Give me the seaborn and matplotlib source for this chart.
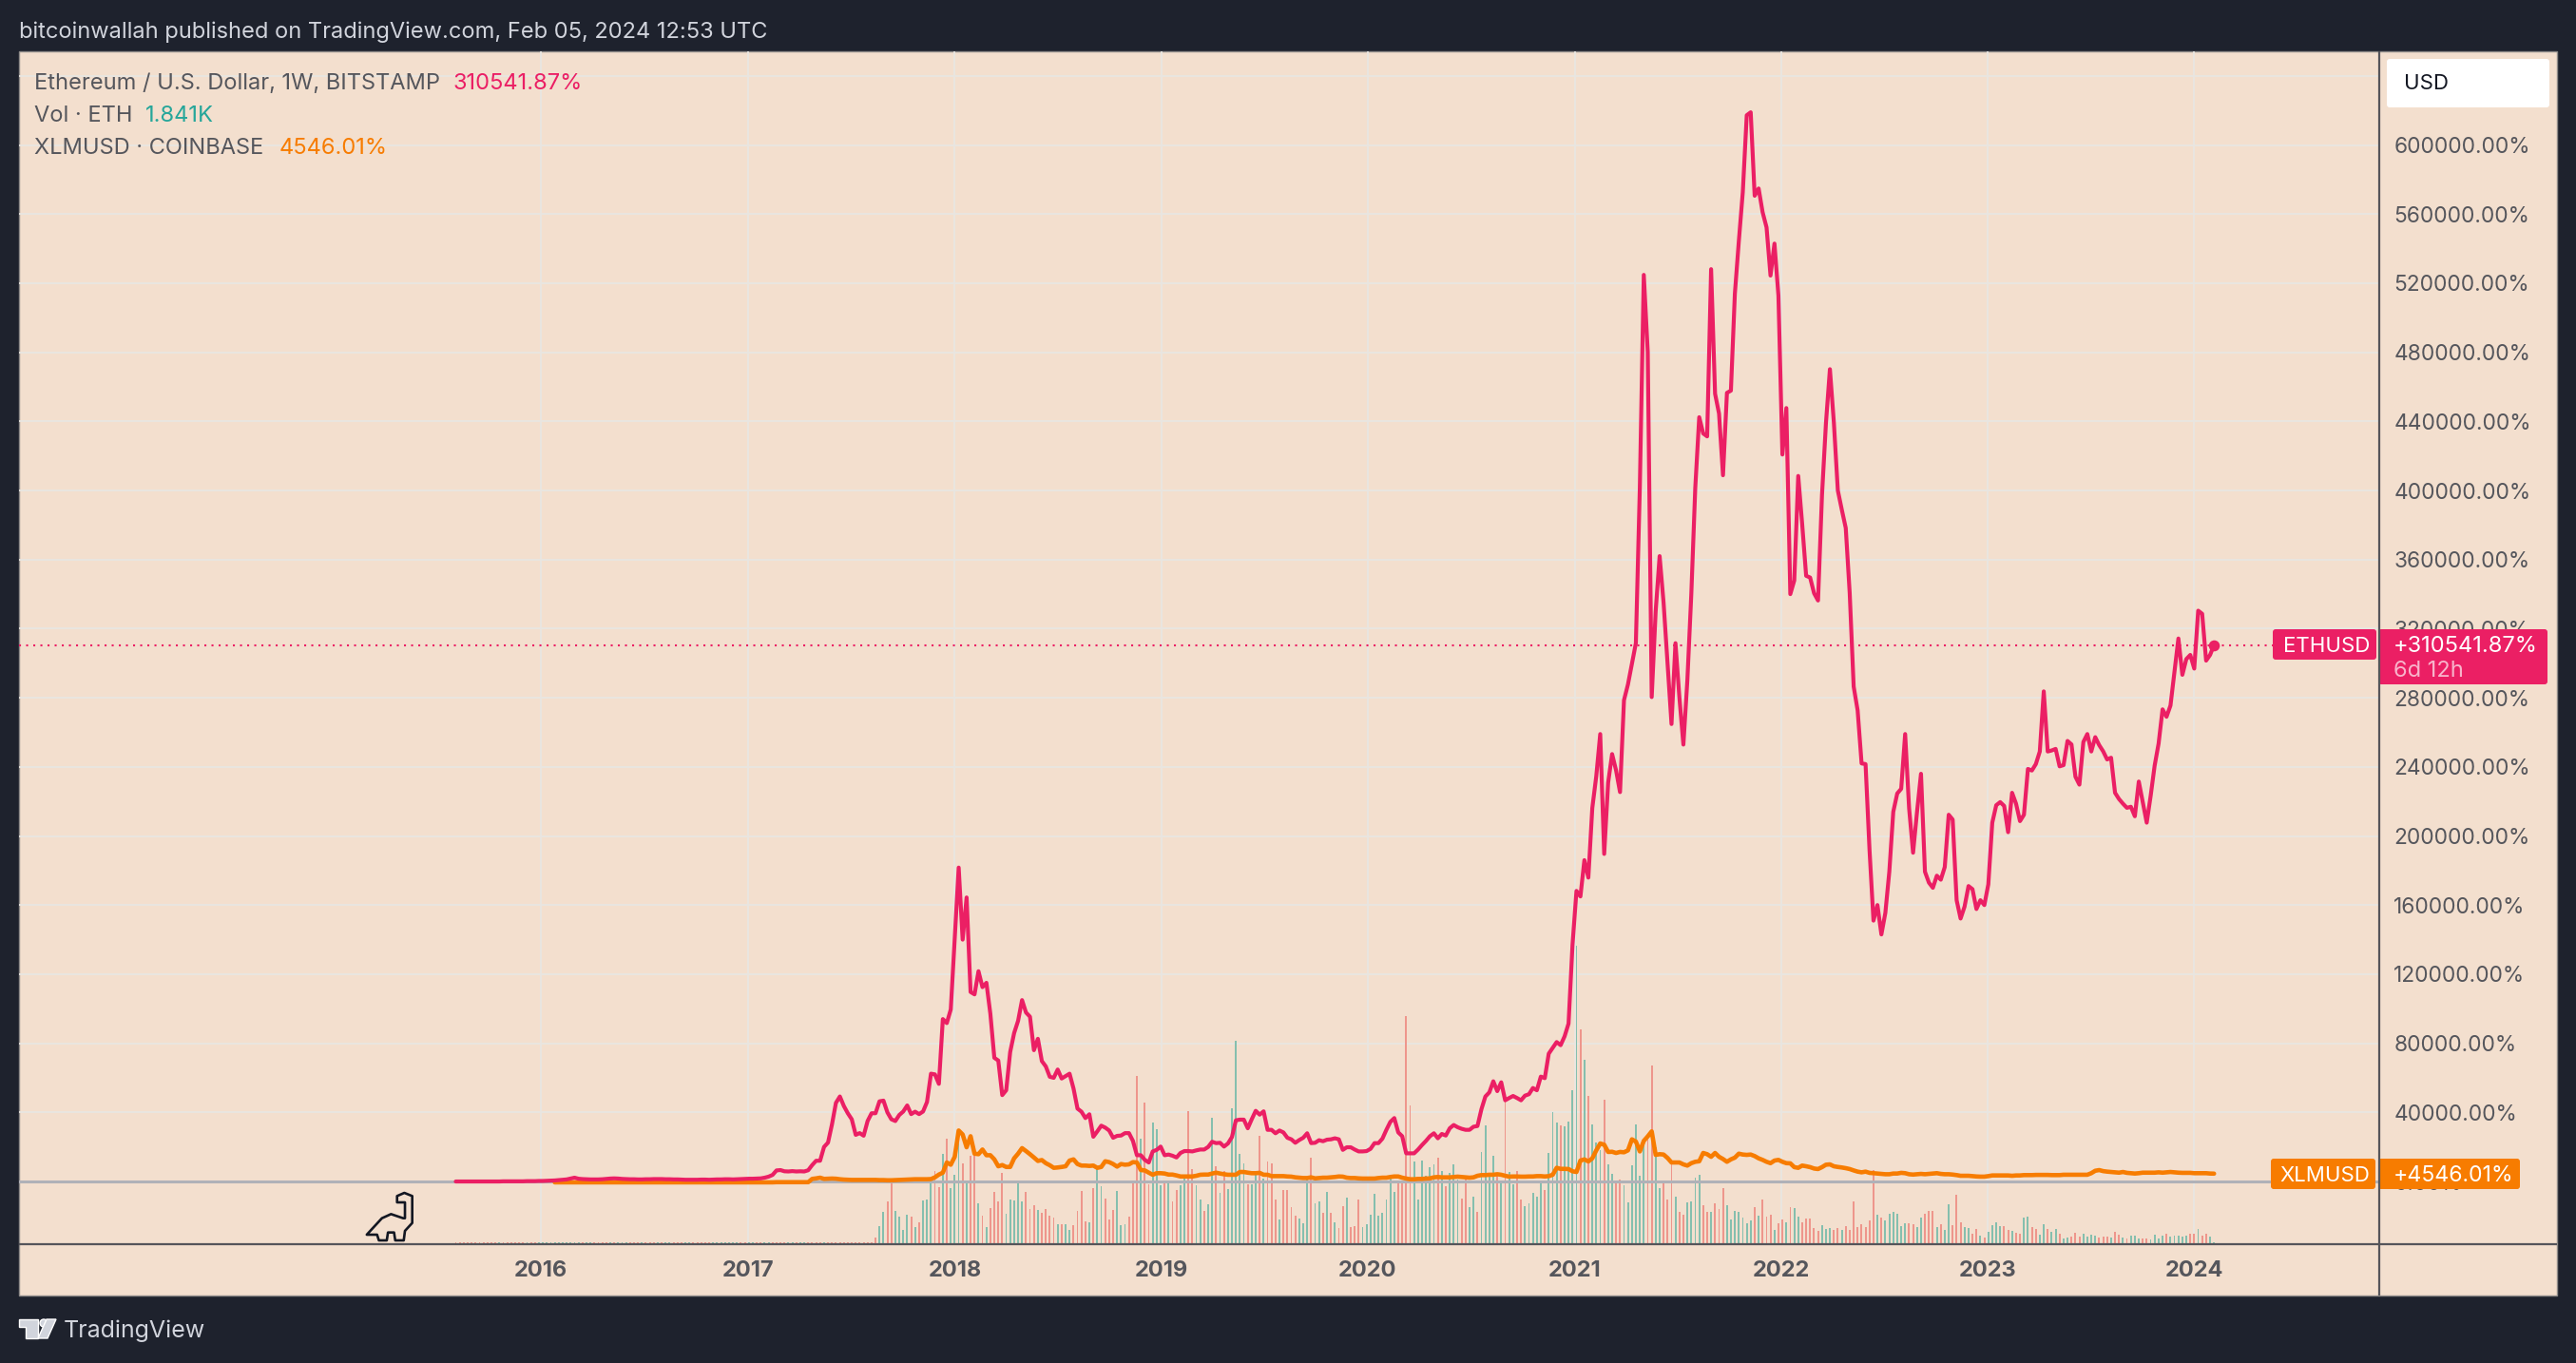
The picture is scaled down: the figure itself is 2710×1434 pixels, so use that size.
import numpy as np
import pandas as pd
import matplotlib
matplotlib.use("Agg")
import matplotlib.pyplot as plt
import matplotlib.dates as mdates
from matplotlib.patches import FancyBboxPatch, Polygon, Rectangle, Circle
import seaborn as sns

W, H = 2710, 1434

# ETH weekly change, in thousands of percent, oldest first
eth_kpct = [
    # 2015 - early 2017, nearly flat
    0.0, 0.0, 0.0, 0.0, 0.0, 0.0, 0.0, 0.0, 0.0, 0.0, 0.0, 0.0, 0.1, 0.1, 0.1, 0.1, 0.1, 0.1, 0.2, 0.2,
    0.2, 0.3, 0.3, 0.4, 0.5, 0.6, 0.8, 1.0, 1.2, 1.7, 2.2, 1.6, 1.4, 1.3, 1.2, 1.2, 1.2, 1.3, 1.5, 1.7,
    1.8, 1.7, 1.5, 1.4, 1.3, 1.3, 1.2, 1.2, 1.3, 1.3, 1.4, 1.4, 1.4, 1.3, 1.3, 1.2, 1.2, 1.1, 1.0, 1.0,
    1.0, 1.0, 1.1, 1.1, 1.0, 1.1, 1.2, 1.2, 1.3, 1.3, 1.2, 1.3, 1.4, 1.5, 1.6, 1.6, 1.7, 1.8, 2.2, 2.8,
    3.8, 6.4, 6.6, 5.9, 5.8, 6.0, 5.8,
    # 2017 - 2019
    5.9, 5.8, 6.5, 9.5, 12, 12, 20, 22.5, 33, 45.5, 49.2, 43.7, 39.5, 36, 27, 28, 26.5, 35, 39.5, 39.5,
    46.4, 46.8, 40, 36, 35, 38.5, 40.5, 44, 39, 40.4, 39, 40.5, 46, 62.4, 62, 56.5, 94, 91.7, 99.6, 141,
    181.7, 140, 164.4, 109.7, 108.3, 121.7, 112.5, 115, 97, 71.6, 70, 50, 52.8, 74.9, 85.9, 93, 105, 97.8,
    95.4, 76, 82.6, 69.7, 66.6, 60.6, 60, 64.8, 59.6, 61, 62.4, 53.8, 42.2, 40.4, 36.7, 38.9, 25.9, 29,
    32.3, 31.2, 29.5, 25.3, 26.4, 26.6, 28, 28, 23.5, 15.2, 15.2, 12.5, 11, 17.4, 18.3, 20.2, 15.2, 15.6,
    14.9, 13.9, 16.5, 17.6, 17.6, 17.4, 18, 18.5, 18.5, 20, 23, 22.2, 22.4, 20.2, 22, 25.7,
    # 2019 - end of 2020
    35.4, 35.8, 35.8, 30.8, 36, 40.9, 38.7, 40.6, 29.9, 29.9, 27.9, 29.5, 28.4, 25.3, 24.4, 22.4, 24, 25.3,
    27.9, 22.2, 22.4, 23.9, 23.3, 24.2, 24.4, 25, 24.4, 18.3, 19.8, 19.8, 18.5, 17.4, 17.4, 17.6, 18.9,
    22.2, 22.2, 24.8, 29.9, 34.5, 36.7, 28.4, 26.2, 16.3, 16.3, 16.3, 18.5, 21.1, 23.5, 26.2, 27.9, 25,
    27.5, 26.6, 30.8, 32.7, 31.4, 30.5, 29.9, 29.9, 31.7, 32.1, 41.8, 49.2, 51.6, 58, 52.3, 57.4, 47, 48.3,
    49.5, 48.3, 47, 49.7, 50.5, 54.1, 52.8, 60.7, 59.8, 74, 77.3, 80.7, 78.9, 84,
    # 2021 - 2022
    91.4, 137, 168.2, 165, 186, 175.9, 216.2, 234.6, 259, 189.6, 230.9, 247.4, 238, 225.4, 278.6, 287.7,
    299.7, 311.6, 401.5, 524.8, 480.2, 280.4, 330, 362, 335, 300, 264.8, 311.6, 280, 252.9, 290, 340,
    401.5, 442.4, 433, 431.3, 528.1, 456, 444.5, 408.8, 456.5, 457.8, 513.9, 544.3, 572.7, 617.2, 618.9,
    570.6, 574.8, 561.1, 552.3, 524.4, 542.9, 512.8, 420.8, 447.7, 340, 347.9, 408.4, 380.4, 350.6, 349.6,
    340.5, 336.3, 397.3, 439, 470.2, 439.3, 400, 388.9, 378.3, 340.5,
    # mid 2022 - 2024
    286.5, 272.7, 242, 241.6, 192, 151, 160, 143, 155.5, 179.3, 214, 224.6, 227.3, 259, 216, 190.3, 214,
    236, 179.3, 173, 170, 177, 174.7, 182, 212.3, 209.5, 162.8, 152.2, 159.1, 171, 169.2, 157.7, 162.8,
    160, 172, 207.7, 217.8, 219.6, 217.4, 202.2, 225, 218.7, 208.6, 212.3, 238.8, 237.9, 241.6, 248.9,
    283.7, 248.9, 249.5, 250.4, 240.3, 241, 255, 253, 234.3, 229.7, 254.4, 259, 248.9, 257.2, 252.6, 249,
    244.3, 245.3, 225, 221.4, 218.7, 216.3, 216.9, 211.4, 231.5, 219.6, 207.7, 223.3, 240.7, 253.5, 273.3,
    269, 275.5, 294.7, 314.3, 293.3, 302.4, 304.8, 296.9, 330.4, 328.6, 301.5, 304.8, 310.54187,
]

# XLM weekly change, in thousands of percent, starts later than ETH
xlm_kpct = [
    -0.5, -0.5, -0.5, -0.5, -0.5, -0.5, -0.5, -0.5, -0.5, -0.5, -0.5, -0.5, -0.5, -0.5, -0.5, -0.5, -0.5,
    -0.5, -0.5, -0.5, -0.5, -0.5, -0.5, -0.5, -0.5, -0.5, -0.5, -0.5, -0.5, -0.5, -0.5, -0.5, -0.5, -0.5,
    -0.5, -0.5, -0.5, -0.5, -0.5, -0.5, -0.5, -0.5, -0.5, -0.5, -0.5, -0.5, -0.5, -0.5, -0.5, -0.5, -0.5,
    -0.5, -0.5, -0.5, -0.5, -0.5, -0.4, -0.4, -0.4, -0.4, -0.4,
    -0.4, -0.4, -0.4, -0.4, 1.5, 1.8, 2.2, 1.5, 1.6, 1.7, 1.6, 1.3, 1.1, 1.0, 0.9, 0.9, 0.9, 0.9, 0.9, 0.9,
    0.9, 0.8, 0.8, 0.7, 0.7, 0.8, 0.9, 1.0, 1.1, 1.2, 1.3, 1.3, 1.3, 1.3, 1.4, 2.4, 4, 5.1, 11, 9.7, 14.3,
    29.5, 27.2, 19.8, 26.2, 16.1, 15.8, 18.5, 15.2, 15.2, 12.8, 8.8, 9.5, 8.4, 8.4, 13.4, 16.1, 19.3, 17.6,
    15.8, 13.9, 11.9, 12.4, 10.6, 9.4, 7.9, 8.1, 8.4, 8.8, 12.1, 12.8, 10.1, 9.2, 9.2, 9, 9.2, 7.9, 8.4,
    11.7, 11.2, 10.1, 8.6, 10.1, 9.7, 9.9, 11.2, 11, 6.6, 6.4, 5.1, 3.9, 4.8, 4.8, 4.6, 4, 4, 3.5, 2.9, 2.9,
    2.9, 2.9, 3.3, 3.9, 4, 4, 4.6, 5.1, 4.6, 4.2, 3.9, 3.9, 3.9,
    5.5, 5.5, 5.1, 4.8, 4.8, 5, 3.9, 3.9, 3.1, 3.1, 3.1, 3.1, 2.9, 2.8, 2.4, 2.2, 2, 2, 2.4, 1.8, 2, 2.2, 2.2,
    2.4, 2.6, 2.9, 2.8, 2.2, 2, 2, 1.8, 1.7, 1.7, 1.7, 1.7, 2, 2.2, 2.2, 2.6, 2.9, 2.9, 2.2, 1.7, 1.3, 1.3,
    1.5, 1.5, 1.7, 1.8, 2.4, 2.6, 2.4, 2.4, 2.4, 2.6, 2.8, 2.6, 2.4, 2.2, 2.4, 3.3, 3.7, 3.7, 3.9, 3.9, 4.2,
    3.9, 3.3, 2.8, 2.9, 2.9, 2.8, 2.8, 2.9, 2.9, 3.1, 3.1, 2.9, 3.1, 3.9, 7.9, 7.3, 7.3, 7.2, 5.9, 5.5, 12.1,
    12.8, 11.6, 13.4, 18, 22, 21.3, 17.1, 17.2, 16.5, 17.1, 16.9, 18, 24.4, 23.1, 17.4, 23.5, 26.1, 29, 15.4,
    15.8, 15.6, 13.6, 11, 11, 11, 9.9, 9.2, 10.6, 11.4, 11.7, 16.5, 15.8, 14.3, 16.5,
    14.3, 13, 11.4, 12.8, 13.8, 16.1, 15.6, 15.4, 15.6, 14.7, 13.4, 12.5, 11.4, 10.6, 12.1, 12.5, 11.4,
    10.6, 10.5, 8.3, 7.9, 9.2, 8.8, 8.3, 7.5, 7.2, 8.3, 9.7, 9.9, 8.8, 8.4, 8.1, 7.7, 7.2, 6.4, 5.7, 5.3,
    5.7, 5, 4.8, 4.6, 4.4, 4.2, 4.2, 4.6, 4.6, 5, 4.8, 4.2, 4, 4.2, 4.4, 4.2, 4.4, 4.6, 4.8, 4.4, 4.2,
    4.2, 4, 3.7, 3.3, 3.3, 3.3, 3.1, 2.9, 2.8, 2.8, 3.1, 3.5, 3.5, 3.5, 3.5, 3.5, 3.3,
    3.5, 3.5, 3.7, 3.7, 3.7, 3.8, 3.8, 3.8, 3.8, 3.7, 3.7, 3.7, 3.9, 3.9, 3.9, 3.9, 3.9, 3.9, 3.9, 4.8,
    6.2, 6.6, 6, 5.7, 5.5, 5.3, 5.1, 5.5, 5, 4.8, 4.6, 4.8, 5.1, 5.1, 5.1, 5.1, 5.3, 5.1, 5.3, 5.5, 5.3, 5.1,
    5, 5, 5, 4.8, 4.8, 4.8, 4.8, 4.6, 4.54601,
]

# Volume in K ETH, negative means a down week
vol_k = [
    -2, -2, -2, -2, -2, -2, -2, -2, -2, -2, -2, 2, -2, -2, -2, -2, -2, -2, 2, -2, -2, 2, 2, 2, 2, 2, 2, 2,
    2, 2, 2, 2, -2, 2, 2, -2, -2, -2, -2, 2, -2, 2, 2, 2, -2, -2, -2, 2, -2, -2, -2, 2, -2, 2, 2, -2, -2,
    -2, 2, 2, -2, -2, -2, -2, -2, 2, 2, 2, 2, 2, 2, 2, -2, -2, 2, 2, -2, -2, 2, 2, -2, -2, -2, -2, 2, 2,
    -2, 2, 2, -2, -2, -2, -2, 2, -2, -2, -2, -2, -2, -2, -2, -2, -2, -2, -2, -2,
    # 2017 - 2019
    -7, 19, 34, -45, -64, 35, 29, 15, 31, -29, 18, -23, 46, 47, 68, -77, -60, 95, -111, 59, 73, 106, -85, 65,
    -93, -101, 43, -30, 18, -38, -55, -45, -75, 32, 47, 46, 64, 45, -55, -37, -41, 36, -33, -37, -30, -28, 21,
    -21, 21, 15, -20, -35, -56, -24, 23, -59, 80, 61, -48, -26, -36, 56, 20, 21, -29, -67, -177, 111, -149, -63,
    128, 121, 62, -67, 64, -45, -57, 62, 73, -140, -79, 62, 47, -35, 42, 133, -82, 54, -77, 58, 143, 214, 95,
    85, -63, 63, 73, -114, 69, -87, -85,
    # 2019 - 2020
    -47, 26, -57, -57, -39, -30, 27, 22, 68, -91, 43, 45, -33, 55, -33, 23, -17, -40, 49, -18, -19, -47, 18, 21,
    31, 53, 30, 33, 47, 72, 55, -65, -65, -240, -146, 87, 47, 88, 72, 81, 84, -91, 77, -61, 75, 84, 68, -48, -68,
    39, 50, -34, 97, 125, 72, 93, -72, 65, -152, 76, 63, -77, -47, 40, 43, 54, 50,
    # 2021 - 2023
    65, -57, 96, 139, 128, -125, 124, 129, 162, 314, -226, 194, -156, 126, 107, 99, -152, 84, 74, -65, -68, 62,
    44, 83, 126, 72, 110, -110, -188, 102, 59, -65, -47, -84, 50, -34, -31, 44, 45, 70, 73, -41, -34, 34, -43,
    -37, -59, 41, 26, 35, 34, 28, 22, 25, -39, 30, -47, -29, -31, 15, -22, -26, 23, -39, 38, 29, -23, -27, -27,
    -17, -14, 20, 16, 17, -15, -17, 15, -19, -15, -45, -18, -21, -18, -25, -78, 31, -28, 25, 32, 34, 32, 19, 22,
    -22, -21, 18, 28, -32, -35, -35, 18, -21, 15, 42, -20, -52, -23, 18, 17, -11, -16, 9, -7, 13, 20, 23, 19, -19,
    -15, 14,
    # 2023 - 2024
    -12, -11, 28, 29, -18, -16, 10, 21, -16, 13, 16, -11, 6, 7, -8, -12, -8, 11, 8, 10, 9, -7, -8, -8, 7, -13,
    -10, 7, -6, 9, 9, 6, -6, -6, 5, 10, 6, 9, -11, 8, 9, 9, 8, 9, -11, -11, 16, -9, -11, 8, 2,
]

# Axis labels
year_labels = ["2016", "2017", "2018", "2019", "2020", "2021", "2022", "2023", "2024"]
grid_kpct = [0, 40, 80, 120, 160, 200, 240, 280, 320, 360, 400, 440, 480, 520, 560, 600, 640]

# Colors
bg_color = "#1e222d"
panel_color = "#f3dfce"
grid_color = "#e9e6e1"
eth_color = "#eb1f64"
xlm_color = "#f77c00"
vol_up = "#85bfae"
vol_down = "#ee968c"
axis_text = "#55565c"
line_color = "#55555a"


def to_df(values):
    # all series end on the same last week
    dates = pd.date_range(end="2024-02-05", periods=len(values), freq="7D")
    return pd.DataFrame({"x": mdates.date2num(dates), "value": values})


eth = to_df(np.array(eth_kpct) * 1000)
xlm = to_df(np.array(xlm_kpct) * 1000)
vol = to_df(np.abs(vol_k))
vol["dir"] = np.where(np.array(vol_k) >= 0, "up", "down")

sns.set_theme(style="white")
plt.rcParams["font.family"] = ["Inter", "DejaVu Sans"]

fig = plt.figure(figsize=(W / 100, H / 100), dpi=100, facecolor=bg_color)


def px_axes(left, top, right, bottom):
    return fig.add_axes([left / W, 1 - bottom / H, (right - left) / W, (bottom - top) / H])


def overlay():
    a = fig.add_axes([0, 0, 1, 1])
    a.set_xlim(0, W)
    a.set_ylim(H, 0)
    a.axis("off")
    return a


# Background panel
back = overlay()
back.add_patch(Rectangle((20, 54), 2670, 1309, facecolor=panel_color, edgecolor="#8f8c8a", lw=1))

# Volume pane, 1 K is about one pixel
ax_vol = px_axes(20, 54, 2503, 1309)
ax_vol.patch.set_visible(False)
sns.barplot(data=vol, x="x", y="value", hue="dir", palette={"up": vol_up, "down": vol_down},
            native_scale=True, dodge=False, width=0.45, saturation=1, legend=False,
            linewidth=0, edgecolor="none", ax=ax_vol)

# Price pane
ax = ax_vol.twinx()
ax.patch.set_visible(False)
ax.axhline(0, color="#b0b1b8", lw=2.2, zorder=1)
ax.axhline(eth_kpct[-1] * 1000, color=eth_color, lw=1.5, dashes=(1, 2.6), zorder=1)
sns.lineplot(data=xlm, x="x", y="value", color=xlm_color, lw=3.3, errorbar=None, ax=ax, zorder=3)
sns.lineplot(data=eth, x="x", y="value", color=eth_color, lw=3.0, errorbar=None, ax=ax, zorder=4)
sns.scatterplot(data=eth.tail(1), x="x", y="value", color=eth_color, s=70, linewidth=0, ax=ax, zorder=5)

x_lim = mdates.date2num(pd.to_datetime(["2013-06-22", "2024-11-23"]))
y_lim = (-36300, 654200)
v_lim = (0, 1255)
ax.set_xlim(*x_lim)
ax.set_ylim(*y_lim)
ax_vol.set_ylim(*v_lim)

# Time axis
year_pos = mdates.date2num(pd.to_datetime([y + "-01-01" for y in year_labels]))
ax_vol.set_xticks(year_pos)
ax_vol.set_xticklabels(year_labels, fontsize=17, fontweight="bold", color=axis_text)
ax_vol.tick_params(axis="x", length=0, pad=12)
ax_vol.set_xlabel("")
ax_vol.set_ylabel("")

# Grid sits under the volume bars, so its rows go on the volume axis
grid_pct = np.array(grid_kpct) * 1000
ax_vol.set_yticks(np.interp(grid_pct, y_lim, v_lim))
ax_vol.set_yticklabels([])
ax_vol.tick_params(axis="y", length=0)
ax_vol.set_axisbelow(True)
ax_vol.grid(True, color=grid_color, lw=1.3)

# Percent axis on the right, the top row has no label under the USD button
ax.set_yticks(grid_pct)
ax.set_yticklabels([f"{v:.2f}%" if v < 640000 else "" for v in grid_pct], fontsize=16.4, color=axis_text,
                   va="center_baseline")
ax.tick_params(axis="y", length=0, pad=11)
ax.set_xlabel("")
ax.set_ylabel("")

for a in (ax, ax_vol):
    for s in a.spines.values():
        s.set_visible(False)

# Everything drawn on top, in pixel positions
top = overlay()
top.set_zorder(10)
top.plot([20, 2690], [1309, 1309], color=line_color, lw=1.6, solid_capstyle="butt")
top.plot([2503, 2503], [54, 1363], color=line_color, lw=1.6, solid_capstyle="butt")


def label(x, y, text, color, size=17, **kw):
    top.text(x, y, text, color=color, fontsize=size, ha="left", va="center", **kw)


def tag(x0, y0, x1, y1, color):
    top.add_patch(FancyBboxPatch((x0 + 3, y0 + 3), x1 - x0 - 6, y1 - y0 - 6, boxstyle="round,pad=3",
                                 facecolor=color, edgecolor="none"))


label(20, 33.5, "bitcoinwallah published on TradingView.com, Feb 05, 2024 12:53 UTC", "#d1d4dc")

label(36, 88.5, "Ethereum / U.S. Dollar, 1W, BITSTAMP", "#55565c")
label(476, 88.5, "310541.87%", eth_color)
label(36, 121.5, "Vol · ETH", "#55565c")
label(153, 121.5, "1.841K", "#26a69a")
label(36, 155.5, "XLMUSD · COINBASE", "#55565c")
label(294, 155.5, "4546.01%", xlm_color)

tag(2511, 62, 2682, 113, "white")
label(2529, 88.5, "USD", "#131722", size=16)

tag(2391, 662, 2500, 694, eth_color)
tag(2502, 662, 2680, 720, eth_color)
label(2402, 680, "ETHUSD", "white", size=16)
label(2518, 680, "+310541.87%", "white", size=17)
label(2518, 706, "6d 12h", "#f8b4cb", size=17)

tag(2389, 1219, 2499, 1251, xlm_color)
tag(2502, 1219, 2651, 1251, xlm_color)
label(2398, 1237, "XLMUSD", "white", size=16)
label(2518, 1237, "+4546.01%", "white", size=16.6)

# Dino next to the first bars
dino = [(605, 447), (630, 395), (645, 382), (665, 395), (668, 395), (668, 345), (655, 345), (655, 325),
        (667, 315), (680, 325), (680, 410), (668, 435), (666, 465), (652, 465), (650, 440), (640, 440),
        (638, 465), (625, 465), (622, 447)]
top.add_patch(Polygon([(x / 1.568, 1150 + y / 3) for x, y in dino], closed=True, facecolor=panel_color,
                      edgecolor="#131722", lw=1.9, joinstyle="round"))

# Footer logo
logo = "#d1d4dc"
top.add_patch(Polygon([(20, 1388), (40, 1388), (40, 1408), (27, 1408), (27, 1396), (20, 1396)], facecolor=logo))
top.add_patch(Circle((46, 1392), 4, facecolor=logo))
top.add_patch(Polygon([(50, 1408), (40, 1408), (49, 1388), (59, 1388)], facecolor=logo))
label(67, 1400, "TradingView", "#d1d4dc", size=18)

fig.savefig("out.png", dpi=100, facecolor=bg_color)
